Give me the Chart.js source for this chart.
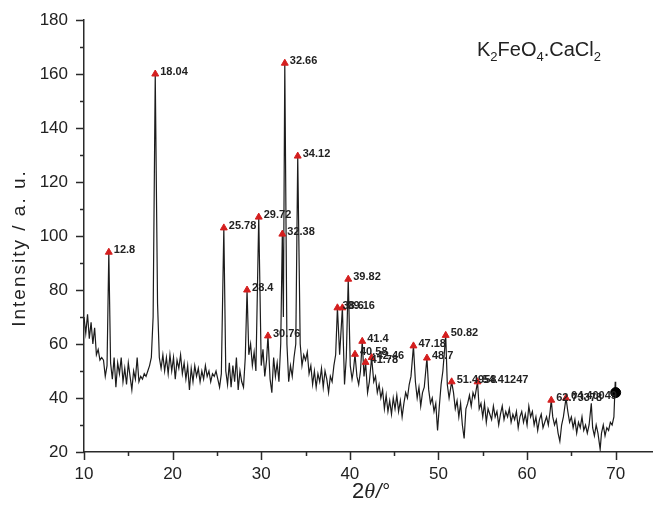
<!DOCTYPE html>
<html>
<head>
<meta charset="utf-8">
<script src="https://cdn.jsdelivr.net/npm/chart.js@4.4.0/dist/chart.umd.min.js"></script>
<style>
  html, body { margin: 0; padding: 0; background: #fff; }
  #wrap { width: 658px; height: 508px; }
</style>
</head>
<body>
<div id="wrap"><canvas id="xrd-chart" width="658" height="508"></canvas></div>
<script>
// XRD pattern (2theta in degrees, intensity in a.u.)
var twoTheta = [
  10.0, 10.2, 10.4, 10.6, 10.8, 11.0, 11.2, 11.4, 11.6, 11.8, 12.0, 12.2, 12.4, 12.6, 12.8,
  13.0, 13.2, 13.4, 13.6, 13.8, 14.0, 14.2, 14.4, 14.6, 14.8, 15.0, 15.2, 15.4, 15.6, 15.8,
  16.0, 16.2, 16.4, 16.6, 16.8, 17.0, 17.2, 17.4, 17.6, 17.8, 18.04, 18.3, 18.5, 18.7, 18.9,
  19.1, 19.3, 19.5, 19.7, 19.9, 20.1, 20.3, 20.5, 20.7, 20.9, 21.1, 21.3, 21.5, 21.7, 21.9,
  22.1, 22.3, 22.5, 22.7, 22.9, 23.1, 23.3, 23.5, 23.7, 23.9, 24.1, 24.3, 24.5, 24.7, 24.9,
  25.1, 25.3, 25.5, 25.78, 26.0, 26.2, 26.4, 26.6, 26.8, 27.0, 27.2, 27.4, 27.6, 27.8, 28.0,
  28.2, 28.4, 28.6, 28.8, 29.0, 29.2, 29.4, 29.72, 30.0, 30.2, 30.4, 30.6, 30.76, 31.0, 31.2,
  31.4, 31.6, 31.8, 32.0, 32.2, 32.38, 32.5, 32.66, 32.9, 33.1, 33.3, 33.5, 33.7, 33.9, 34.12,
  34.4, 34.6, 34.8, 35.0, 35.2, 35.4, 35.6, 35.8, 36.0, 36.2, 36.4, 36.6, 36.8, 37.0, 37.2,
  37.4, 37.6, 37.8, 38.0, 38.2, 38.4, 38.6, 38.85, 39.16, 39.4, 39.6, 39.82, 40.05, 40.25, 40.4,
  40.58, 40.8, 41.0, 41.2, 41.4, 41.6, 41.78, 42.0, 42.2, 42.46, 42.7, 42.9, 43.1, 43.3, 43.5,
  43.7, 43.9, 44.1, 44.3, 44.5, 44.7, 44.9, 45.1, 45.3, 45.5, 45.7, 45.9, 46.1, 46.3, 46.5,
  46.7, 46.9, 47.18, 47.4, 47.6, 47.8, 48.0, 48.2, 48.4, 48.7, 48.9, 49.1, 49.3, 49.5, 49.7,
  49.9, 50.1, 50.3, 50.5, 50.82, 51.0, 51.2, 51.49, 51.7, 51.9, 52.1, 52.3, 52.5, 52.7, 52.9,
  53.1, 53.3, 53.5, 53.7, 53.9, 54.1, 54.41, 54.6, 54.8, 55.0, 55.2, 55.4, 55.6, 55.8, 56.0,
  56.2, 56.4, 56.6, 56.8, 57.0, 57.2, 57.4, 57.6, 57.8, 58.0, 58.2, 58.4, 58.6, 58.8, 59.0,
  59.2, 59.4, 59.6, 59.8, 60.0, 60.2, 60.4, 60.6, 60.8, 61.0, 61.2, 61.4, 61.6, 61.8, 62.0,
  62.2, 62.4, 62.6, 62.73, 62.9, 63.1, 63.3, 63.5, 63.7, 63.9, 64.1, 64.4, 64.6, 64.8, 65.0,
  65.2, 65.4, 65.6, 65.8, 66.0, 66.2, 66.4, 66.6, 66.8, 67.0, 67.25, 67.4, 67.6, 67.8, 68.0,
  68.25, 68.4, 68.6, 68.8, 69.0, 69.2, 69.4, 69.6, 69.8, 69.95, 70.0
];
var intensity = [
  70, 64, 71, 62, 68, 60, 66, 56, 58, 54, 55, 54, 48, 52, 94,
  53, 47, 55, 44, 53, 49, 55, 46, 51, 45, 53, 48, 43, 50, 47,
  55, 46, 48, 47, 49, 48, 50, 52, 55, 70, 160, 75, 55, 51, 56,
  50, 55, 49, 56, 50, 55, 47, 54, 51, 56, 49, 53, 47, 52, 43,
  51, 46, 52, 48, 51, 46, 50, 47, 52, 48, 50, 46, 49, 48, 50,
  47, 44, 49, 103, 50, 45, 53, 44, 52, 46, 55, 43, 50, 46, 44,
  55, 80, 56, 60, 52, 57, 50, 107, 52, 58, 48, 54, 63, 47, 42,
  55, 48, 53, 46, 60, 100.7, 70, 164, 60, 46, 52, 48, 55, 60, 129.6,
  60, 52, 56, 54, 57, 49, 52, 45, 50, 44, 49, 46, 51, 44, 50,
  47, 42, 48, 46, 52, 56, 73.4, 56, 73.4, 45, 55, 84, 52, 47, 50,
  56.2, 48, 45, 50, 61, 48, 53.2, 42, 46, 55, 46, 48, 42, 45, 40,
  43, 36, 41, 35, 39, 34, 40, 36, 41, 35, 39, 33, 38, 42, 40,
  45, 48, 59.3, 46, 40, 44, 37, 42, 44, 54.8, 43, 38, 40, 35, 38,
  28, 37, 45, 50, 63.2, 45, 40, 46, 42, 36, 39, 33, 38, 30, 25,
  36, 38, 41, 37, 42, 40, 46, 36, 38, 33, 38, 31, 36, 34, 32,
  37, 33, 35, 30, 34, 37, 32, 35, 33, 36, 31, 34, 32, 35, 29,
  33, 35, 31, 34, 30, 37, 33, 35, 30, 33, 28, 32, 34, 29, 31,
  33, 30, 35, 39.2, 33, 30, 32, 27, 24, 30, 33, 40, 35, 31, 33,
  29, 32, 27, 31, 29, 33, 28, 30, 27, 30, 38, 29, 26, 30, 27,
  21, 27, 30, 26, 29, 28, 31, 30, 33, 46, 42
];

// labelled peaks (red triangles)
var peakX = [12.8, 18.04, 25.78, 28.4, 29.72, 30.76, 32.38, 32.66, 34.12, 38.6, 39.16, 39.82,
  40.58, 41.4, 41.78, 42.46, 47.18, 48.7, 50.82, 51.49, 54.41, 62.73, 64.4];
var peakY = [94, 160, 103, 80, 107, 63, 100.7, 164, 129.6, 73.4, 73.4, 84,
  56.2, 61, 53.2, 55, 59.3, 54.8, 63.2, 46, 46, 39.2, 40];
var peakLabels = ["12.8", "18.04", "25.78", "28.4", "29.72", "30.76", "32.38", "32.66", "34.12",
  "38.6", "39.16", "39.82", "40.58", "41.4", "41.78", "42.46", "47.18", "48.7", "50.82",
  "51.4958", "54.41247", "62.73378", "64.40049"];

// end marker (black dot)
var endX = [70];
var endY = [42];

var xTickValues = [10, 15, 20, 25, 30, 35, 40, 45, 50, 55, 60, 65, 70];
var yTickValues = [20, 30, 40, 50, 60, 70, 80, 90, 100, 110, 120, 130, 140, 150, 160, 170, 180];

var axisColor = "#2a2a2a";
var textColor = "#222";

function toPoints(xs, ys) {
  var out = [];
  for (var i = 0; i < xs.length; i++) out.push({ x: xs[i], y: ys[i] });
  return out;
}

// Tick marks, peak labels, sample name and axis titles.
var xrdDecor = {
  id: "xrdDecor",
  afterDraw: function (chart) {
    var ctx = chart.ctx;
    var xs = chart.scales.x, ys = chart.scales.y;
    var area = chart.chartArea;
    ctx.save();
    ctx.strokeStyle = axisColor;
    ctx.lineWidth = 1.5;
    ctx.beginPath();
    xTickValues.forEach(function (v) {
      var px = Math.round(xs.getPixelForValue(v)) + 0.5;
      var len = v % 10 === 0 ? 8 : 4;
      ctx.moveTo(px, area.bottom);
      ctx.lineTo(px, area.bottom + len);
    });
    yTickValues.forEach(function (v) {
      var py = Math.round(ys.getPixelForValue(v)) + 0.5;
      var len = v % 20 === 0 ? 8 : 4;
      ctx.moveTo(area.left, py);
      ctx.lineTo(area.left - len, py);
    });
    ctx.stroke();

    // peak labels
    var meta = chart.getDatasetMeta(1);
    ctx.fillStyle = textColor;
    ctx.font = "bold 11px 'Liberation Sans', Arial, sans-serif";
    ctx.textBaseline = "middle";
    ctx.textAlign = "left";
    meta.data.forEach(function (pt, i) {
      ctx.fillText(peakLabels[i], pt.x + 5, pt.y - 2);
    });

    // sample name K2FeO4.CaCl2
    var parts = [["K", 0], ["2", 1], ["FeO", 0], ["4", 1], [".CaCl", 0], ["2", 1]];
    var x = 477, y = 56;
    parts.forEach(function (p) {
      ctx.font = (p[1] ? "13px" : "20px") + " 'Liberation Sans', Arial, sans-serif";
      ctx.textBaseline = "alphabetic";
      ctx.fillText(p[0], x, p[1] ? y + 5 : y);
      x += ctx.measureText(p[0]).width;
    });

    // x axis title: 2θ/°
    var tx = 352, ty = 498;
    ctx.font = "22px 'Liberation Sans', Arial, sans-serif";
    ctx.fillText("2", tx, ty);
    tx += ctx.measureText("2").width;
    ctx.font = "italic 22px 'Liberation Serif', 'Times New Roman', serif";
    ctx.fillText("\u03b8", tx, ty);
    tx += ctx.measureText("\u03b8").width + 1;
    ctx.font = "italic 20px 'Liberation Sans', Arial, sans-serif";
    ctx.fillText("/\u00b0", tx, ty);

    // y axis title
    ctx.save();
    ctx.translate(20, 248);
    ctx.rotate(-Math.PI / 2);
    ctx.font = "19px 'Liberation Sans', Arial, sans-serif";
    ctx.letterSpacing = "2px";
    ctx.textAlign = "center";
    ctx.textBaseline = "middle";
    ctx.fillText("Intensity / a. u.", 0, 0);
    ctx.restore();
    ctx.restore();
  },
};

var ctx = document.getElementById("xrd-chart").getContext("2d");
var xrdChart = new Chart(ctx, {
  type: "scatter",
  data: {
    datasets: [
      {
        label: "pattern",
        data: toPoints(twoTheta, intensity),
        showLine: true,
        borderColor: "#1c1c1c",
        borderWidth: 1.2,
        pointRadius: 0,
        tension: 0,
        order: 3,
      },
      {
        label: "peaks",
        data: toPoints(peakX, peakY),
        showLine: false,
        pointStyle: "triangle",
        pointRadius: 4,
        backgroundColor: "#d41e1e",
        borderColor: "#d41e1e",
        borderWidth: 1,
        order: 1,
      },
      {
        label: "end",
        data: toPoints(endX, endY),
        showLine: false,
        pointStyle: "circle",
        pointRadius: 5,
        backgroundColor: "#000",
        borderColor: "#000",
        order: 0,
      },
    ],
  },
  options: {
    responsive: false,
    animation: false,
    layout: { padding: { top: 20, right: 0, left: 0, bottom: 0 } },
    plugins: {
      legend: { display: false },
      tooltip: { enabled: false },
    },
    scales: {
      x: {
        type: "linear",
        min: 10,
        max: 74.1,
        afterBuildTicks: function (scale) {
          scale.ticks = xTickValues.map(function (v) { return { value: v }; });
        },
        afterFit: function (scale) { scale.height = 56; },
        grid: { display: false },
        border: { display: true, color: axisColor, width: 1.5 },
        ticks: {
          padding: 4,
          color: textColor,
          font: { family: "'Liberation Sans', Arial, sans-serif", size: 17 },
          maxRotation: 0,
          autoSkip: false,
          callback: function (v) { return v % 10 === 0 ? String(v) : ""; },
        },
      },
      y: {
        type: "linear",
        min: 20,
        max: 180,
        afterBuildTicks: function (scale) {
          scale.ticks = yTickValues.map(function (v) { return { value: v }; });
        },
        afterFit: function (scale) { scale.width = 84; },
        grid: { display: false },
        border: { display: true, color: axisColor, width: 1.5 },
        ticks: {
          padding: 8,
          color: textColor,
          font: { family: "'Liberation Sans', Arial, sans-serif", size: 17 },
          autoSkip: false,
          callback: function (v) { return v % 20 === 0 ? String(v) : ""; },
        },
      },
    },
  },
  plugins: [xrdDecor],
});
</script>
</body>
</html>
